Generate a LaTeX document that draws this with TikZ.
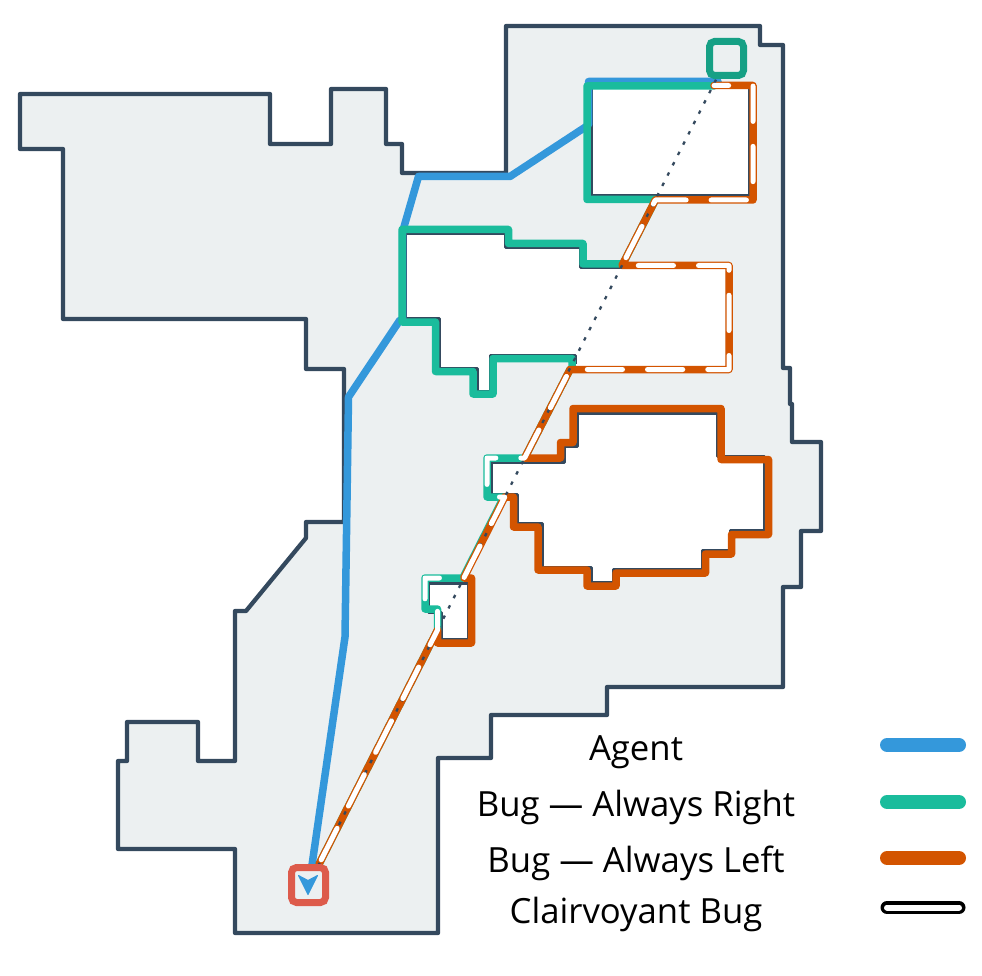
\documentclass[tikz,border=0pt]{standalone}
\usepackage{fontspec}
\setmainfont{Open Sans}
\definecolor{mapline}{HTML}{34495E}
\definecolor{mapfill}{HTML}{ECF0F1}
\definecolor{agentcol}{HTML}{3498DB}
\definecolor{rightcol}{HTML}{1ABC9C}
\definecolor{leftcol}{HTML}{D35400}
\definecolor{startcol}{HTML}{DD5B4B}
\definecolor{goalcol}{HTML}{16A085}
\tikzset{
  bugpath/.style={line width=7.5pt,line join=round,line cap=round},
  wall/.style={draw=mapline,line width=3pt,line join=round},
  marker/.style={line width=7pt,rounded corners=5pt,fill=mapfill},
  legendline/.style={line width=14pt,line cap=round},
  legendtext/.style={font=\fontsize{34.7}{35}\selectfont,anchor=center}
}
\begin{document}
\begin{tikzpicture}[x=1pt,y=-1pt]
  \useasboundingbox (0,0) rectangle (982,976);
  % map
  \draw[draw=mapline,line width=4.3pt,line join=round,fill=mapfill]
    (506,26)--(760,26)--(760,45)--(783,45)--(783,368)--(790,368)--(790,404)--(792,404)--(792,442)--(821,442)--(821,531)--(801,531)--(801,587)--(783,587)--(783,687)--(607,687)--(607,715)--(491,715)--(491,758)--(438,758)--(438,933)--(235,933)--(235,849)--(118,849)--(118,761)--(127,761)--(127,722)--(198,722)--(198,761)--(235,761)--(235,611)--(246,611)--(306,538)--(306,522)--(344,522)--(344,369)--(306,369)--(306,319)--(63,319)--(63,149)--(20,149)--(20,94)--(270,94)--(270,144)--(331,144)--(331,89)--(386,89)--(386,144)--(402,144)--(402,173)--(506,173)--cycle;
  % holes
  \draw[wall,fill=white] (591,87) rectangle (749.5,196);
  \fill[white] (405,234)--(505,234)--(505,248)--(580,248)--(580,268)--(725,268)--(725,366)--(575,366)--(575,355)--(490,355)--(490,391)--(477,391)--(477,368)--(439,368)--(439,318)--(405,318)--cycle;
  \draw[wall] (575,364)--(575,355)--(490,355)--(490,391)--(477,391)--(477,368)--(439,368)--(439,318)--(405,318)--(405,234)--(505,234)--(505,248)--(580,248)--(580,268)--(622,268);
  \draw[wall,fill=white] (491,462)--(564,462)--(564,446)--(577,446)--(577,413)--(717,413)--(717,456)--(764,456)--(764,530)--(730,530)--(730,550)--(702,550)--(702,569)--(613,569)--(613,582)--(591,582)--(591,567)--(542,567)--(542,523)--(517,523)--(517,494)--(491,494)--cycle;
  \draw[wall,fill=white] (428,583)--(468,583)--(468,639)--(441,639)--(441,612)--(428,612)--cycle;
  % paths
  \draw[bugpath,agentcol] (312,865)--(345,637)--(348.5,397)--(400,320)--(402.5,320)--(402.5,232)--(418.5,176.5)--(510,176.5)--(588.5,125)--(588.5,81.5)--(718,81.5);
  \draw[bugpath,rightcol] (319.1,864)--(437.5,630)--(437.5,609)--(425,609)--(425,578)--(462.8,578)--(503.8,497)--(487,497)--(487,458)--(524.6,458)--(570,369.5)--(572,369.5)--(572,358.5)--(493,358.5)--(493,394)--(473,394)--(473,371.5)--(435.5,371.5)--(435.5,322)--(402,322)--(402,229.5)--(508.5,229.5)--(508.5,243.5)--(583,243.5)--(583,264)--(622.8,264)--(655.7,199.5)--(587,199.5)--(587,86)--(714,86);
  \draw[bugpath,leftcol] (319.1,864)--(437.5,630)--(437.5,643)--(471.5,643)--(471.5,578)--(463.8,578)--(504.8,497)--(513.5,497)--(513.5,527)--(538,527)--(538,570)--(587,570)--(587,586)--(616,586)--(616,573)--(705.5,573)--(705.5,554)--(731.5,554)--(731.5,534.5)--(768.5,534.5)--(768.5,459.5)--(721,459.5)--(721,408.5)--(573,408.5)--(573,442.5)--(560.5,442.5)--(560.5,458)--(524.6,458)--(570,369.5)--(729,369.5)--(729,265.5)--(622,265.5)--(655.4,200)--(753,200)--(753,85.5)--(714,85.5);
  \draw[mapline,line width=2.3pt,dash pattern=on 3.5pt off 8.05pt,dash phase=3pt] (309,884)--(727,58);
  \draw[white,line width=5pt,line cap=round,line join=round,dash pattern=on 35.25pt off 25pt] (321.2,859.8)--(437.5,630)--(437.5,609)--(425,609)--(425,578)--(463.8,578)--(504.8,497)--(487,497)--(487,458)--(524.6,458)--(570,369.5)--(729,369.5)--(729,265.5)--(622,265.5)--(655.4,200)--(753,200)--(753,85.5)--(714,85.5);
  % markers
  \draw[startcol,marker] (291.5,867.5) rectangle (325.5,902.5);
  \fill[agentcol,draw=agentcol,line width=1pt,line join=round] (298.5,875.5)--(308,880.5)--(317.5,875.5)--(308,894.5)--cycle;
  \draw[goalcol,marker] (709.5,41.5) rectangle (743.5,75.5);
  % legend
  \node[legendtext] (agentlab) at (636,752) {Agent};
  \node[legendtext] (rightlab) at (636,807) {Bug — Always Right};
  \node[legendtext] (leftlab) at (636,863) {Bug — Always Left};
  \node[legendtext] (clairlab) at (636,914) {Clairvoyant Bug};
  \draw[legendline,agentcol] (887,745)--(959,745);
  \draw[legendline,rightcol] (887,802)--(959,802);
  \draw[legendline,leftcol] (887,858)--(959,858);
  \draw[legendline,line width=13pt,black] (887,907.5)--(959,907.5);
  \draw[legendline,line width=6pt,white] (887,907.5)--(959,907.5);
\end{tikzpicture}
\end{document}
